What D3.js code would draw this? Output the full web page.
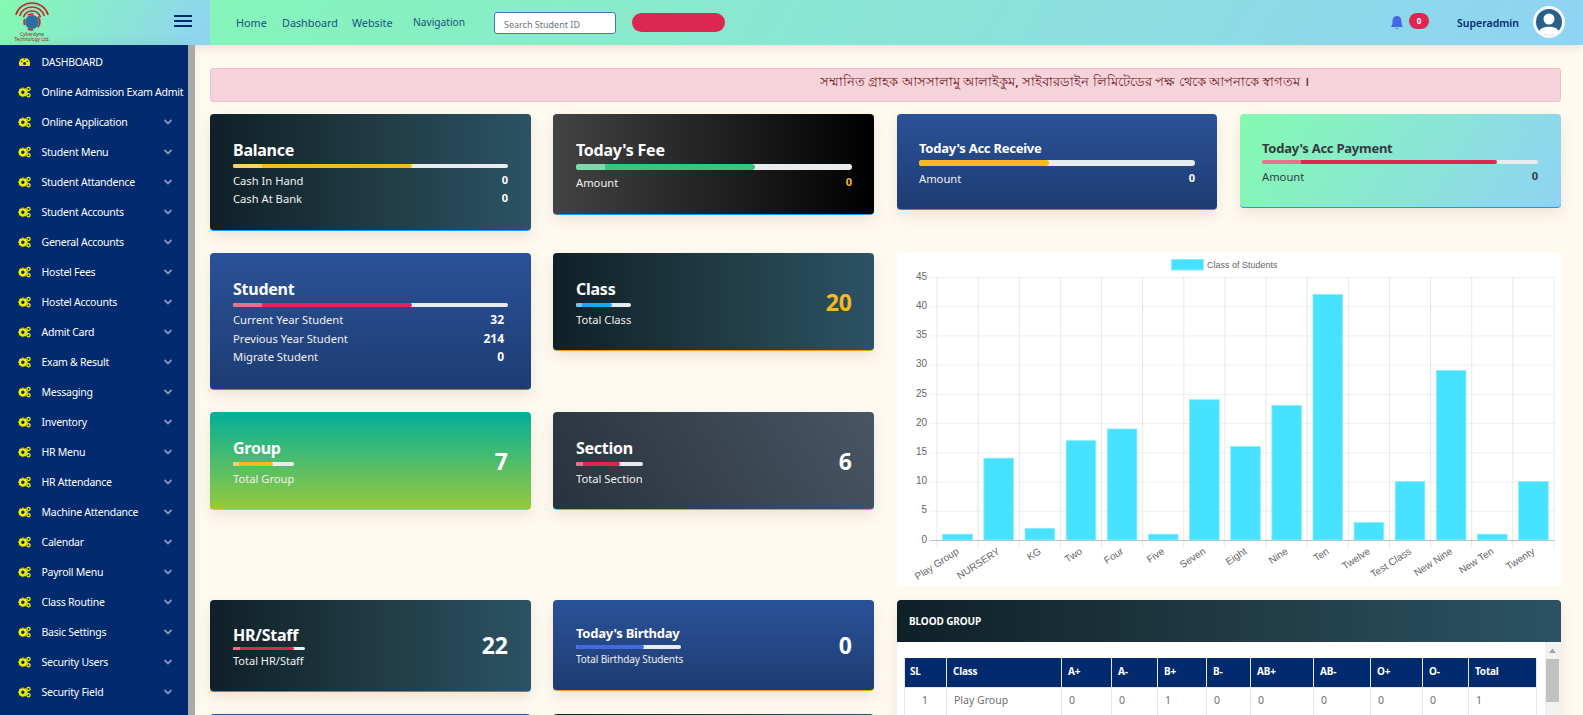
<!DOCTYPE html>
<html>
<head>
<meta charset="utf-8">
<script src="https://cdn.jsdelivr.net/npm/d3@7"></script>
<style>
  html, body { margin: 0; padding: 0; width: 1583px; height: 715px; overflow: hidden; background: #fffaf0; font-family: "Noto Sans", sans-serif; }
  #page { position: relative; width: 1583px; height: 715px; overflow: hidden; }
  .box { position: absolute; box-sizing: border-box; }
  .txt { position: absolute; white-space: nowrap; transform: translateY(-50%); line-height: 1; }
  svg { position: absolute; left: 0; top: 0; }
</style>
</head>
<body>
<div id="page"></div>
<script>
// chart values
const classNames = ["Play Group", "NURSERY", "KG", "Two", "Four", "Five", "Seven", "Eight", "Nine", "Ten", "Twelve", "Test Class", "New Nine", "New Ten", "Twenty"]
const classStudents = [1, 14, 2, 17, 19, 1, 24, 16, 23, 42, 3, 10, 29, 1, 10]
const yTicks = [0, 5, 10, 15, 20, 25, 30, 35, 40, 45]
const legendLabel = "Class of Students"

// page text
const menuItems = ["DASHBOARD", "Online Admission Exam Admit", "Online Application", "Student Menu", "Student Attandence", "Student Accounts", "General Accounts", "Hostel Fees", "Hostel Accounts", "Admit Card", "Exam & Result", "Messaging", "Inventory", "HR Menu", "HR Attendance", "Machine Attendance", "Calendar", "Payroll Menu", "Class Routine", "Basic Settings", "Security Users", "Security Field"]
const navLinks = ["Home", "Dashboard", "Website", "Navigation"]
const welcomeText = "সম্মানিত গ্রাহক আসসালামু আলাইকুম, সাইবারডাইন লিমিটেডের পক্ষ থেকে আপনাকে স্বাগতম ।"
const tableHeader = ["SL", "Class", "A+", "A-", "B+", "B-", "AB+", "AB-", "O+", "O-", "Total"]
const tableRow = ["1", "Play Group", "0", "0", "1", "0", "0", "0", "0", "0", "1"]
const balanceRows = [["Cash In Hand", "0"], ["Cash At Bank", "0"]]
const studentRows = [["Current Year Student", "32"], ["Previous Year Student", "214"], ["Migrate Student", "0"]]

const navy = "#012a6f"
const tealGrad = "linear-gradient(to right, #0f2027, #203a43, #2c5364)"
const blueGrad = "linear-gradient(to bottom, #2a5298, #1e3c72)"
const mintGrad = "linear-gradient(120deg, #84fab0, #8fd3f4)"
const blackGrad = "linear-gradient(to right, #434343, #000000)"
const slateGrad = "linear-gradient(60deg, #29323c, #485563)"
const groupGrad = "linear-gradient(to bottom, #02af9b, #96c93d)"
const cyan = "#47e2ff"
const cyanEdge = "#8aedff"

const page = d3.select("#page")

const drawBox = (x0, y0, x1, y1, style) => {
  const box = page.append("div")
    .attr("class", "box")
    .style("left", `${x0}px`)
    .style("top", `${y0}px`)
    .style("width", `${x1 - x0}px`)
    .style("height", `${y1 - y0}px`)
  Object.entries(style).forEach(([k, v]) => box.style(k, v))
  return box
}

const drawText = (text, x, cy, size, color, weight = 400, anchor = "left", spacing = 0) => {
  const t = page.append("div")
    .attr("class", "txt")
    .text(text)
    .style("top", `${cy}px`)
    .style("font-size", `${size}px`)
    .style("color", color)
    .style("font-weight", weight)
    .style("letter-spacing", `${spacing}px`)
  if (anchor === "right") t.style("right", `${1583 - x}px`)
  else t.style("left", `${x}px`)
  return t
}

const drawTitle = (text, x, cy, size = 16, color = "#fff") => drawText(text, x, cy, size, color, 700, "left", -0.25)
const drawLabel = (text, x, cy, color = "#f1f1f1") => drawText(text, x, cy, 11.2, color)
const drawBigValue = (text, x, cy, color = "#fff") => drawText(text, x, cy, 23, color, 700, "right")

const drawProgress = (x0, x1, y0, y1, lightEnd, fillEnd, color) => {
  const w = x1 - x0
  drawBox(x0, y0, x1, y1, { background: "#e9ecef", "border-radius": "3px" })
  drawBox(x0, y0, x0 + w * fillEnd, y1, { background: color, "border-radius": "3px" })
  if (lightEnd > 0) {
    drawBox(x0, y0, x0 + w * lightEnd, y1, { background: "rgba(255,255,255,0.35)", "border-radius": "3px 0 0 3px" })
  }
}

const drawCard = (x0, y0, x1, y1, background, edge) => {
  drawBox(x0, y0, x1, y1, {
    background: background,
    "border-bottom": `1.5px solid ${edge}`,
    "border-radius": "4px",
    "box-shadow": "0 6px 14px rgba(60,40,20,0.10)"
  })
}

const drawFrame = () => {
  drawBox(0, 0, 1583, 45, { background: mintGrad, "box-shadow": "0 2px 10px rgba(60,40,20,0.14)" })
  drawBox(0, 0, 210, 45, { background: mintGrad })
  drawBox(0, 45, 188, 715, { background: navy, "box-shadow": "4px 0 12px rgba(60,40,20,0.08)" })
  drawBox(188, 45, 195, 715, { background: "#a9a9a9" })

  // hamburger
  ;[15, 20, 25].forEach(y => drawBox(174, y, 192, y + 1.6, { background: navy }))

  const navX = [236, 282, 352, 413]
  const navY = [23, 23, 23, 22]
  const navSize = [10.8, 10.8, 10.8, 10.2]
  navLinks.forEach((d, i) => drawText(d, navX[i], navY[i], navSize[i], "#17527c"))

  drawBox(494, 11.5, 616, 33.5, { background: "#fff", border: "1px solid #4a78ad", "border-radius": "3px" })
  drawText("Search Student ID", 504, 23.5, 9, "#6c757d")
  drawBox(632, 13, 725, 32, { background: "#dc2751", "border-radius": "10px" })

  drawBox(1409, 13, 1429, 29, { background: "#dc2751", "border-radius": "8px" })
  drawText("0", 1419, 21, 8, "#fff", 700).style("transform", "translate(-50%,-50%)")
  drawText("Superadmin", 1457, 22.5, 10.5, navy, 600)

  // alert
  drawBox(210, 68, 1561, 102, { background: "#f5d3db", border: "1px solid #f2bfcb", "border-radius": "3px" })
  drawText(welcomeText, 820, 82, 13.2, "#721c24", 500)
}

const drawMenu = () => {
  menuItems.forEach((d, i) => {
    drawText(d, 41.5, 61.6 + i * 30, 10.5, "#fff", 400, "left", -0.25)
  })
}

const drawTopIcons = (svg) => {
  // logo
  const logo = svg.append("g").attr("transform", "translate(32, 20)")
  const arc = d3.arc().startAngle(-1.25).endAngle(1.25)
  ;[9, 13, 17].forEach(r => {
    logo.append("path")
      .attr("d", arc({ innerRadius: r - 0.8, outerRadius: r + 0.8 }))
      .attr("fill", "#c0272d")
  })
  logo.append("circle").attr("r", 7).attr("cy", 2).attr("fill", "#2f6f9f")
  logo.append("circle").attr("r", 8).attr("cy", 2).attr("fill", "none").attr("stroke", "#c0272d").attr("stroke-width", 1.5).attr("stroke-dasharray", "6 5")
  svg.append("text").text("Cyberdyne").attr("x", 32).attr("y", 36).attr("text-anchor", "middle")
    .attr("font-size", 4.8).attr("fill", "#8f2f2a")
  svg.append("text").text("Technology Ltd.").attr("x", 32).attr("y", 40.5).attr("text-anchor", "middle")
    .attr("font-size", 4.8).attr("fill", "#8f2f2a")

  // bell
  svg.append("path")
    .attr("d", "M1397 16 C1393.5 16 1392.5 19 1392.5 22 C1392.5 25 1391.5 26 1391 27 L1403 27 C1402.5 26 1401.5 25 1401.5 22 C1401.5 19 1400.5 16 1397 16 Z M1395.5 28 a1.6 1.6 0 0 0 3 0 Z")
    .attr("fill", "#4169e1")

  // avatar
  svg.append("circle").attr("cx", 1549).attr("cy", 22).attr("r", 16).attr("fill", "#f4f6f8")
  svg.append("circle").attr("cx", 1549).attr("cy", 22).attr("r", 13).attr("fill", "#2a6088")
  svg.append("circle").attr("cx", 1549).attr("cy", 19).attr("r", 5.5).attr("fill", "#fff")
  svg.append("path").attr("d", "M1539 32 C1540 25 1558 25 1559 32 C1555 36 1543 36 1539 32 Z").attr("fill", "#fff")
}

const drawMenuIcons = (svg) => {
  const yellow = "#f6f000"
  menuItems.forEach((d, i) => {
    const y = 62 + i * 30
    const g = svg.append("g").attr("transform", `translate(24.5, ${y})`).attr("fill", yellow)
    if (i === 0) {
      g.append("path").attr("d", "M-5 4 A5.6 5.6 0 1 1 5 4 Z")
      g.append("circle").attr("cx", 0).attr("cy", 1.5).attr("r", 1.5).attr("fill", navy)
      g.append("circle").attr("cx", -2.8).attr("cy", -0.5).attr("r", 0.8).attr("fill", navy)
      g.append("circle").attr("cx", 0).attr("cy", -3).attr("r", 0.8).attr("fill", navy)
      g.append("circle").attr("cx", 2.8).attr("cy", -0.5).attr("r", 0.8).attr("fill", navy)
    } else {
      // big cog plus two small ones
      g.append("circle").attr("cx", -1.6).attr("cy", 0.3).attr("r", 2.9).attr("fill", "none")
        .attr("stroke", yellow).attr("stroke-width", 2.4)
      g.append("circle").attr("cx", -1.6).attr("cy", 0.3).attr("r", 4.4).attr("fill", "none")
        .attr("stroke", yellow).attr("stroke-width", 1).attr("stroke-dasharray", "1.6 1.6")
      g.append("circle").attr("cx", 4).attr("cy", -3).attr("r", 1.6).attr("fill", "none")
        .attr("stroke", yellow).attr("stroke-width", 1.3)
      g.append("circle").attr("cx", 4).attr("cy", 3.2).attr("r", 1.6).attr("fill", "none")
        .attr("stroke", yellow).attr("stroke-width", 1.3)
    }
    // first two entries have no submenu
    if (i > 1) {
      svg.append("path")
        .attr("d", `M164.5 ${y - 2} L168 ${y + 1.5} L171.5 ${y - 2}`)
        .attr("fill", "none")
        .attr("stroke", "#7f94bb")
        .attr("stroke-width", 1.8)
    }
  })
}

const drawCards = () => {
  // Balance
  drawCard(210, 114, 531, 231, tealGrad, "#2196f3")
  drawTitle("Balance", 233, 150)
  drawProgress(233, 508, 164, 168, 0.105, 0.65, "#f7b924")
  balanceRows.forEach((d, i) => {
    drawLabel(d[0], 233, 180.5 + i * 18)
    drawText(d[1], 508, 179 + i * 18, 11, "#fff", 700, "right")
  })

  // Today's Fee
  drawCard(553, 114, 874, 215, blackGrad, "#2196f3")
  drawTitle("Today's Fee", 576, 150)
  drawProgress(576, 852, 164, 170, 0.105, 0.65, "#3ac47d")
  drawLabel("Amount", 576, 183)
  drawText("0", 852, 181, 11, "#f7b924", 700, "right")

  // Today's Acc Receive
  drawCard(897, 114, 1217, 210, blueGrad, "#2196f3")
  drawTitle("Today's Acc Receive", 919, 148, 13)
  drawProgress(919, 1195, 160, 166, 0, 0.47, "#f7b924")
  drawLabel("Amount", 919, 179)
  drawText("0", 1195, 177, 11, "#fff", 700, "right")

  // Today's Acc Payment
  drawCard(1240, 114, 1561, 208, mintGrad, "#2196f3")
  drawTitle("Today's Acc Payment", 1262, 148, 13, "#343a40")
  drawProgress(1262, 1538, 160, 164, 0.14, 0.85, "#dc2751")
  drawLabel("Amount", 1262, 176.5, "#343a40")
  drawText("0", 1538, 175, 11, "#343a40", 700, "right")

  // Student
  drawCard(210, 253, 531, 390, blueGrad, "#2196f3")
  drawTitle("Student", 233, 289)
  drawProgress(233, 508, 303, 307, 0.105, 0.65, "#dc2751")
  const studentY = [320, 339, 357]
  studentRows.forEach((d, i) => {
    drawLabel(d[0], 233, studentY[i])
    drawText(d[1], 504, studentY[i], 12, "#fff", 700, "right")
  })

  // Class
  drawCard(553, 253, 874, 351, tealGrad, "#f09a1a")
  drawTitle("Class", 576, 289)
  drawProgress(576, 631, 303, 307, 0.1, 0.65, "#16aaff")
  drawLabel("Total Class", 576, 320)
  drawBigValue("20", 852, 302, "#f7b924")

  // Group
  drawCard(210, 412, 531, 510, groupGrad, "#f7b924")
  drawTitle("Group", 233, 448)
  drawProgress(233, 294, 462, 466, 0.1, 0.65, "#f7b924")
  drawLabel("Total Group", 233, 479)
  drawBigValue("7", 508, 460.5)

  // Section
  drawCard(553, 412, 874, 510, slateGrad, "#15dfe6")
  drawTitle("Section", 576, 448)
  drawProgress(576, 643, 462, 466, 0.1, 0.65, "#dc2751")
  drawLabel("Total Section", 576, 479)
  drawBigValue("6", 852, 460.5)

  // HR/Staff
  drawCard(210, 600, 531, 692, tealGrad, "#2196f3")
  drawTitle("HR/Staff", 233, 635)
  drawProgress(233, 305, 647, 650, 0.1, 0.85, "#dc2751")
  drawText("Total HR/Staff", 233, 660, 11, "#f1f1f1")
  drawBigValue("22", 508, 645)

  // Today's Birthday
  drawCard(553, 600, 874, 691, blueGrad, "#f09a1a")
  drawTitle("Today's Birthday", 576, 633, 13)
  drawProgress(576, 681, 645, 649, 0, 0.65, "#4169e1")
  drawText("Total Birthday Students", 576, 659, 10, "#f1f1f1", 400, "left", -0.1)
  drawBigValue("0", 852, 645)

  // row below, only the top edge is in view
  drawCard(210, 714, 531, 790, blueGrad, "#2196f3")
  drawCard(553, 714, 874, 790, tealGrad, "#2196f3")
}

const drawTable = () => {
  drawBox(897, 600, 1561, 760, { background: "#fff", "border-radius": "4px", "box-shadow": "0 6px 14px rgba(60,40,20,0.10)" })
  drawBox(897, 600, 1561, 642, { background: tealGrad, "border-radius": "4px 4px 0 0" })
  drawText("BLOOD GROUP", 909, 620.5, 10, "#fff", 700, "left", -0.1)

  const colX = [904, 947, 1062, 1112, 1158, 1207, 1251, 1314, 1371, 1423, 1469, 1537]
  tableHeader.forEach((d, i) => {
    drawBox(colX[i], 658, colX[i + 1], 687, {
      background: navy,
      "border-right": "1px solid #e4e7ea",
      "border-left": i === 0 ? "1px solid #e4e7ea" : "none"
    })
    drawText(d, colX[i] + 6, 671, 10, "#fff", 700, "left", -0.2)
  })
  tableRow.forEach((d, i) => {
    drawBox(colX[i], 687, colX[i + 1], 730, {
      background: "#fff",
      "border-right": "1px solid #e4e7ea",
      "border-left": i === 0 ? "1px solid #e4e7ea" : "none",
      "border-top": "1px solid #e4e7ea"
    })
    const cellX = i === 0 ? colX[i] + 18 : colX[i] + 7
    drawText(d, cellX, 700, 10.5, "#6f6f6f")
  })

  // scrollbar
  drawBox(1545, 642, 1561, 715, { background: "#f1f1f1" })
  drawBox(1546, 659, 1559, 702, { background: "#c1c1c1" })
}

const drawScrollArrow = (svg) => {
  svg.append("path").attr("d", "M1549 653 L1552.5 648.5 L1556 653 Z").attr("fill", "#a3a3a3")
}

const drawChart = (svg) => {
  const margin = { left: 937, right: 1554, top: 277, bottom: 540 }

  const xScale = d3.scaleBand()
    .domain(classNames)
    .range([margin.left, margin.right])
    .paddingInner(0.28)
    .paddingOuter(0.14)

  const yScale = d3.scaleLinear()
    .domain([0, d3.max(yTicks)])
    .range([margin.bottom, margin.top])

  const gridScale = d3.scaleLinear()
    .domain([0, classNames.length])
    .range([margin.left, margin.right])

  const chart = svg.append("g")

  // grid, with the tick stubs that stick out past the plot
  chart.selectAll("line.grid-x")
    .data(d3.range(classNames.length + 1))
    .join("line")
      .attr("class", "grid-x")
      .attr("x1", d => gridScale(d))
      .attr("x2", d => gridScale(d))
      .attr("y1", margin.top)
      .attr("y2", margin.bottom + 8)
      .attr("stroke", "rgba(0,0,0,0.09)")

  const yAxis = d3.axisLeft(yScale)
    .tickValues(yTicks)
    .tickSize(margin.right - margin.left + 7)
    .tickPadding(3)

  const yAxisG = chart.append("g")
    .attr("transform", `translate(${margin.right}, 0)`)
    .call(yAxis)
  yAxisG.select(".domain").remove()
  yAxisG.selectAll("line")
    .attr("stroke", d => d === 0 ? "rgba(0,0,0,0.25)" : "rgba(0,0,0,0.06)")
  yAxisG.selectAll("text")
    .attr("fill", "#666")
    .attr("font-family", "Liberation Sans")
    .attr("font-size", 10)
    .attr("dy", "0.22em")

  const xAxis = d3.axisBottom(xScale).tickSize(0).tickPadding(0)
  const xAxisG = chart.append("g")
    .attr("transform", `translate(0, ${margin.bottom})`)
    .call(xAxis)
  xAxisG.select(".domain").remove()
  xAxisG.selectAll("text")
    .attr("fill", "#666")
    .attr("font-family", "Liberation Sans")
    .attr("font-size", 10)
    .attr("text-anchor", "end")
    .attr("dy", 0)
    .attr("transform", "translate(2, 13) rotate(-33)")

  chart.selectAll("rect.bar")
    .data(classNames)
    .join("rect")
      .attr("class", "bar")
      .attr("x", d => xScale(d))
      .attr("y", (d, i) => yScale(classStudents[i]))
      .attr("width", xScale.bandwidth())
      .attr("height", (d, i) => margin.bottom - yScale(classStudents[i]))
      .attr("fill", cyan)
      .attr("stroke", cyanEdge)
      .attr("stroke-width", 0.8)

  // legend
  chart.append("rect")
    .attr("x", 1171.5)
    .attr("y", 259.5)
    .attr("width", 32)
    .attr("height", 10.5)
    .attr("fill", cyan)
    .attr("stroke", cyanEdge)
  chart.append("text")
    .text(legendLabel)
    .attr("x", 1207)
    .attr("y", 268)
    .attr("fill", "#666")
    .attr("font-family", "Liberation Sans")
    .attr("font-size", 9)
}

drawFrame()
drawMenu()
drawCards()
drawTable()
drawBox(897, 253, 1561, 585, { background: "#fff" })

const svg = page.append("svg").attr("width", 1583).attr("height", 715)
drawTopIcons(svg)
drawMenuIcons(svg)
drawScrollArrow(svg)
drawChart(svg)
</script>
</body>
</html>
